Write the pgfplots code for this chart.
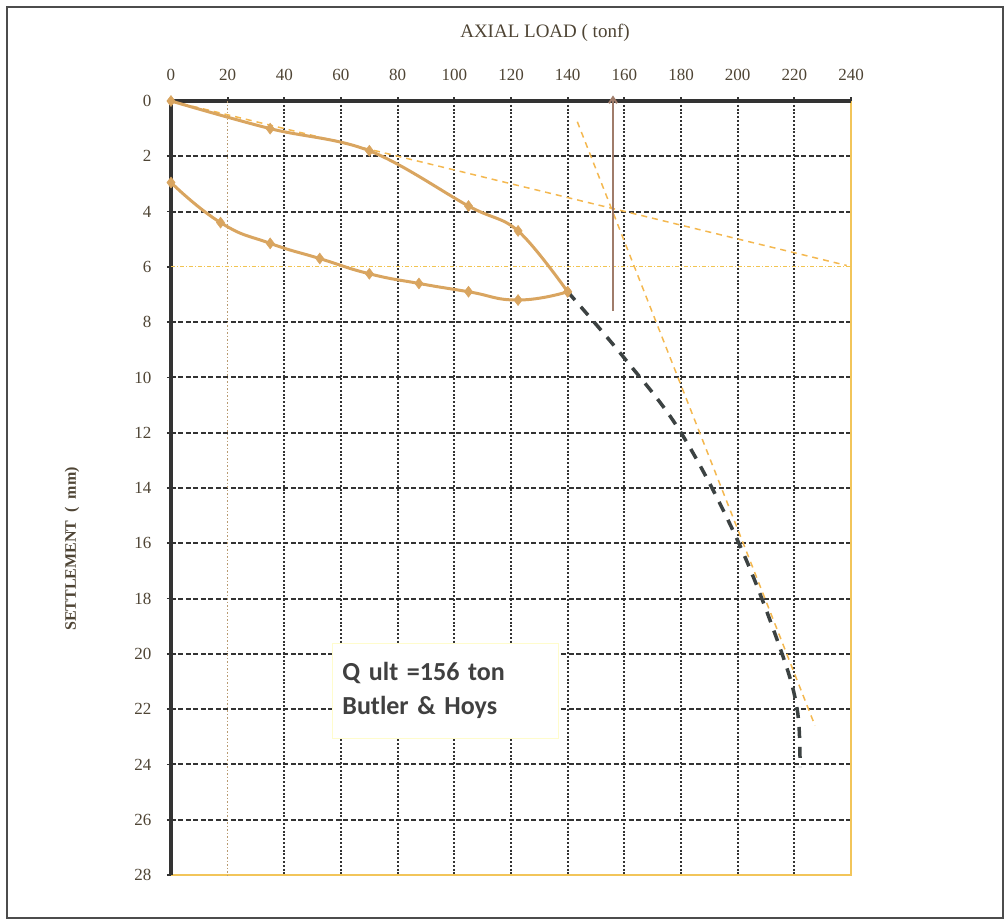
\documentclass[border=0pt]{standalone}
\usepackage{pgfplots}
\pgfplotsset{compat=1.18}
\usepackage{fontspec}
\setmainfont{Liberation Serif}
\newfontfamily\boxfont{Carlito}
\usetikzlibrary{arrows.meta}
\definecolor{curve}{HTML}{D9A560}
\definecolor{dkdash}{HTML}{3C4242}
\definecolor{tang}{HTML}{F4B850}
\definecolor{hline}{HTML}{F2C451}
\definecolor{vline}{HTML}{B89A70}
\definecolor{lbl}{HTML}{4E4434}
\definecolor{arrowc}{HTML}{A07C6A}
\definecolor{gridc}{HTML}{333333}
\definecolor{edge}{HTML}{F2C55A}

\begin{document}
\begin{tikzpicture}
\path[use as bounding box] (-171bp,-48bp) rectangle (835bp,875bp);
\draw[gray!60!black, line width=1.5bp] (-164bp,-43bp) rectangle (832bp,868bp);
\begin{axis}[
  at={(0,0)}, anchor=south west,
  scale only axis, width=680bp, height=774bp,
  xmin=0, xmax=240, ymin=0, ymax=28, y dir=reverse,
  xtick={0,40,60,...,240}, extra x ticks={20}, extra x tick style={grid=none},
  ytick={0,2,4,8,10,...,28}, extra y ticks={6}, extra y tick style={grid=none},
  xtick pos=right, xticklabel pos=right,
  ytick pos=left, yticklabel pos=left,
  axis line style={draw=none},
  xmajorgrids, ymajorgrids,
  major x grid style={gridc, line width=2.2bp, dash pattern=on 2bp off 1.8bp},
  major y grid style={gridc, line width=2bp, dash pattern=on 5bp off 2.5bp},
  tick align=outside, major tick length=4bp,
  tick style={gridc, line width=1.8bp},
  /pgf/number format/assume math mode=true,
  ticklabel style={font=\fontsize{17bp}{17bp}\selectfont, text=lbl},
  xticklabel style={yshift=13bp},
  yticklabel style={xshift=-12bp},
  clip=false,
]
% axis frame lines
\draw[edge, line width=1.2bp] (axis cs:0,28) -- (axis cs:240,28) -- (axis cs:240,0);
\draw[gridc, line width=3.2bp] (axis cs:0,28) -- (axis cs:0,0) -- (axis cs:240,0);

% reference lines
\addplot[vline, line width=1.5bp, dash pattern=on 1.5bp off 2bp] coordinates {(20,0) (20,28)};
\addplot[hline, line width=1.2bp, dash pattern=on 4bp off 2bp on 1bp off 2bp] coordinates {(0,6) (240,6)};
\addplot[tang, line width=1.5bp, dash pattern=on 6bp off 5bp] coordinates {(0,0) (238.5,5.95)};
\addplot[tang, line width=1.5bp, dash pattern=on 6bp off 5bp] coordinates {(143.4,0.75) (227.3,22.6)};

% extrapolated curve
\addplot[dkdash, line width=3.5bp, dash pattern=on 11bp off 9bp, smooth, tension=0.6]
  coordinates {(140,6.9) (160,9.3) (180,12.0) (200,15.9) (215,19.8) (221,22) (222,24.1)};

% Qult arrow
\addplot[arrowc, line width=2bp, -{Straight Barb[length=6bp,width=8bp]}]
  coordinates {(156,7.6) (156,-0.2)};

% loading
\addplot[curve, line width=3bp, smooth, tension=0.6, mark=diamond*, mark size=5.5bp,
  mark options={fill=curve, draw=curve, line width=0.5bp}]
  coordinates {(0,0) (35,1.0) (70,1.8) (105,3.8) (122.5,4.7) (140,6.9)};
% unloading
\addplot[curve, line width=3bp, smooth, tension=0.85, mark=diamond*, mark size=5.5bp,
  mark options={fill=curve, draw=curve, line width=0.5bp}]
  coordinates {(140,6.9) (122.5,7.2) (105,6.9) (87.5,6.6) (70,6.25) (52.5,5.7) (35,5.15) (17.5,4.4) (0,2.95)};

% annotation box
\node[draw=yellow!20!white, fill=white, line width=1bp, anchor=north west,
  minimum width=226bp, minimum height=95bp, text width=206bp, inner xsep=10bp,
  align=left, text=black!75,
  font=\boxfont\bfseries\fontsize{26bp}{34bp}\selectfont]
  at (axis cs:56.8,19.6) {Q ult =156 ton\\Butler \& Hoys};

% titles
\node[text=lbl, font=\fontsize{19bp}{19bp}\selectfont] at ([yshift=68bp]axis cs:132,0) {AXIAL LOAD ( tonf)};
\node[text=lbl, font=\fontsize{16bp}{16bp}\selectfont\bfseries, rotate=90] at ([xshift=-99bp]axis cs:0,16.2) {SETTLEMENT \ ( \ mm)};
\end{axis}
\end{tikzpicture}
\end{document}
